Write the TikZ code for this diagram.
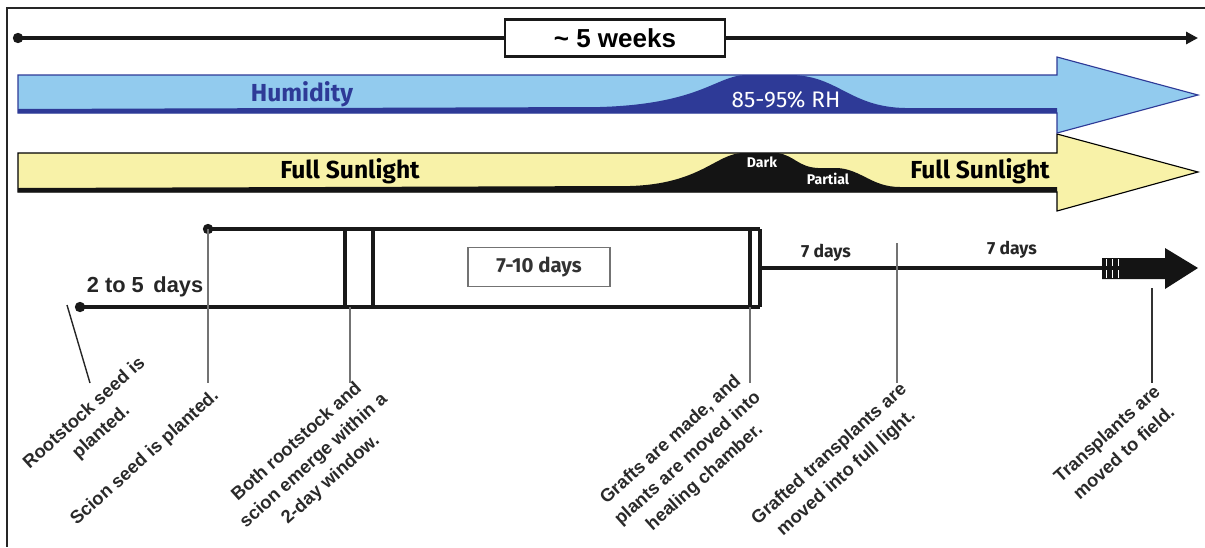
\documentclass[tikz,border=0pt]{standalone}
\usepackage{fontspec}
\setmainfont{Liberation Sans}
\newfontfamily\barfont{Fira Sans}
\usetikzlibrary{positioning, arrows.meta, calc}
\definecolor{skyfill}{HTML}{92CBEE}
\definecolor{humblue}{HTML}{2E3A97}
\definecolor{sunfill}{HTML}{F8F2A8}
\definecolor{inkgray}{HTML}{2A2A2A}

\begin{document}
\begin{tikzpicture}[
    x=0.025cm, y=-0.025cm,
    frameline/.style={line width=1.2pt, black!85},
    mainline/.style={line width=2.2pt, black!90},
    callout/.style={line width=1pt, black!55},
    dotmark/.style={circle, fill=black!90, inner sep=0pt, minimum size=0.26cm},
    weekbox/.style={draw=black!90, line width=1.6pt, fill=white, minimum width=5.5cm, minimum height=0.92cm, font=\fontsize{18.5}{22}\selectfont\bfseries},
    daysbox/.style={draw=black!55, line width=0.8pt, fill=white, minimum width=3.55cm, minimum height=0.97cm, font=\barfont\fontsize{14.5}{18}\selectfont\bfseries, text=black!80},
    barlabel/.style={font=\barfont\fontsize{17.5}{20}\selectfont\bfseries},
    smallbar/.style={font=\barfont\fontsize{10}{12}\selectfont\bfseries, text=white},
    spanlabel/.style={font=\barfont\fontsize{12.5}{15}\selectfont\bfseries, text=black!85},
    steplabel/.style={rotate=42, align=center, inner sep=0pt, font=\fontsize{13}{18}\selectfont\bfseries, text=inkgray},
]
\useasboundingbox (0,0) rectangle (1205,547);

% === FRAME ===
\draw[frameline] (1205,8) -- (7,8) -- (7,547);

% === TOTAL DURATION ===
\node[dotmark] (start) at (18,38) {};
\coordinate (finish) at (1198,38);
\draw[mainline, -{Triangle[length=0.3cm, width=0.3cm]}] (start.center) -- (finish);
\node[weekbox] (weeks) at (615,38) {\textasciitilde{} 5 weeks};

% === SUNLIGHT BAR ===
\draw[black, line width=0.8pt, fill=sunfill] (18,153) -- (1057,153) -- (1057,134) -- (1198,172) -- (1057,211) -- (1057,192) -- (18,192) -- cycle;
\fill[black!92] (18,188) -- (630,186) .. controls (700,184) and (716,154) .. (742,153) -- (778,153) .. controls (795,156) and (798,167) .. (818,168) -- (838,168) .. controls (862,170) and (872,187) .. (900,187) -- (1057,187) -- (1057,192) -- (18,192) -- cycle;
\node[barlabel] (sunA) at (350,171) {Full Sunlight};
\node[barlabel] (sunB) at (980,171) {Full Sunlight};
\node[smallbar] (dark) at (762,162) {Dark};
\node[smallbar] (partial) at (828,179) {Partial};

% === HUMIDITY BAR ===
\draw[humblue, line width=0.8pt, fill=skyfill] (18,75) -- (1057,75) -- (1057,57) -- (1198,95) -- (1057,133) -- (1057,113) -- (18,113) -- cycle;
\fill[humblue] (18,109) -- (600,107) .. controls (700,104) and (716,76) .. (745,75) -- (792,75) .. controls (838,76) and (850,107) .. (905,108) -- (1057,108) -- (1057,113) -- (18,113) -- cycle;
\node[barlabel, text=humblue] (humid) at (302,94) {Humidity};
\node[font=\barfont\fontsize{16}{18}\selectfont, text=white] (rh) at (786,100) {85-95\% RH};

% === GROWING TIMELINE ===
\node[dotmark] (root) at (80,307) {};
\node[dotmark] (scion) at (208,229) {};
\coordinate (lowend) at (760,307);
\coordinate (upend) at (760,229);
\draw[mainline] (root.center) -- (lowend);
\draw[mainline] (scion.center) -- (upend);
\draw[mainline] (345,229) -- (345,307);
\draw[mainline] (373,229) -- (373,307);
\draw[mainline] (750,229) -- (750,307);
\draw[mainline] (upend) -- (lowend);
\node[daysbox] (heal) at (539,267) {7-10 days};
\node[font=\fontsize{15.5}{18}\selectfont\bfseries, text=black!85] (early) at (145,287) {2 to 5\, days};

% block arrow to field
\coordinate (hardstart) at (760,268);
\coordinate (block) at (1102,268);
\draw[mainline] (hardstart) -- (block);
\fill[black!92] (1102,258) -- (1165,258) -- (1165,248) -- (1198,268) -- (1165,289) -- (1165,279) -- (1102,279) -- cycle;
\foreach \sx in {1106,1112,1118}
  \draw[white, line width=0.6pt] (\sx,259) -- (\sx,266) (\sx,270) -- (\sx,278);
\node[spanlabel] (weekA) at (826,253) {7 days};
\node[spanlabel] (weekB) at (1012,250) {7 days};

% === EVENT LABELS ===
\node[steplabel] (lroot) at (93,423) {Rootstock seed is\\planted.};
\node[steplabel] (lscion) at (145,458) {Scion seed is planted.};
\node[steplabel] (lboth) at (314,461) {Both rootstock and\\scion emerge within a\\2-day window.};
\node[steplabel] (lgraft) at (688,459) {Grafts are made, and\\plants are moved into\\healing chamber.};
\node[steplabel] (lfull) at (838,464) {Grafted transplants are\\moved into full light.};
\node[steplabel] (lfield) at (1115,443) {Transplants are\\moved to field.};

% callout lines
\draw[callout, black!85] (67,305) -- (90,383);
\draw[callout] (scion.center) -- (208,383);
\draw[callout] (350,307) -- (350,383);
\draw[callout] (750,307) -- (750,383);
\draw[callout] (897,243) -- (897,383);
\draw[callout, black!80] (1152,288) -- (1152,383);

\end{tikzpicture}
\end{document}
